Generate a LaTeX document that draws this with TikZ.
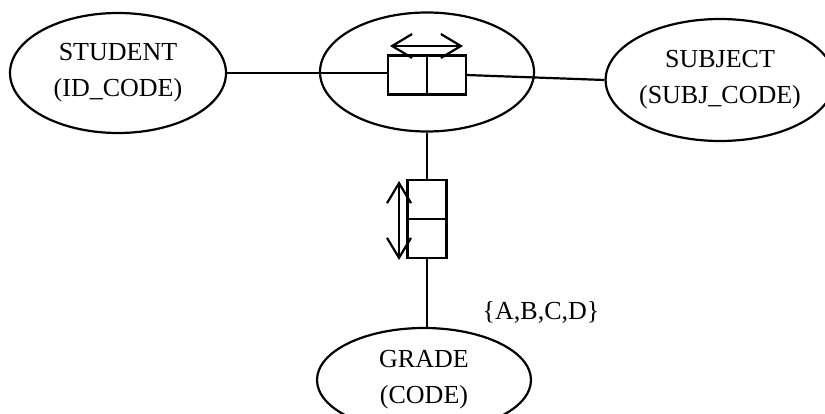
\documentclass[tikz,border=0pt]{standalone}
\usepackage{fontspec}
\setmainfont{Liberation Serif}
\usetikzlibrary{shapes.geometric,arrows.meta}
\begin{document}
\begin{tikzpicture}[x=1pt,y=-1pt,
  ent/.style={ellipse,draw,line width=2.2pt,inner sep=0pt,align=center,font=\fontsize{26}{36}\selectfont},
  sq/.style={draw,line width=2.2pt,outer sep=0pt,minimum width=39pt,minimum height=39pt,inner sep=0pt},
  conn/.style={line width=2.2pt},
  dbl/.style={line width=2.2pt,{Straight Barb[length=20pt,width=24pt]}-{Straight Barb[length=20pt,width=24pt]}}]
\useasboundingbox[fill=white] (0,0) rectangle (825,414);
\clip (0,0) rectangle (825,414);
\node[ent,minimum width=216pt,minimum height=120pt] (student) at (118,73) {STUDENT\\(ID\_CODE)};
\node[ent,minimum width=214pt,minimum height=119pt] (rel) at (427,72) {};
\node[ent,minimum width=208pt,minimum height=122pt] (subject) at (720,80) {SUBJECT\\(SUBJ\_CODE)};
\node[ent,minimum width=214pt,minimum height=104pt] (grade) at (424,380) {GRADE\\(CODE)};
\node[sq,anchor=east] (lbox) at (427,75) {};
\node[sq,anchor=west] (rbox) at (427,75) {};
\node[sq,anchor=south] (tbox) at (427,219) {};
\node[sq,anchor=north] (bbox) at (427,219) {};
\node[font=\fontsize{26}{36}\selectfont] (dom) at (541,312) {\{A,B,C,D\}};
\coordinate (h1) at (390,46);
\coordinate (h2) at (463,46);
\coordinate (v1) at (399,181);
\coordinate (v2) at (399,260);
\draw[conn] (student.east) -- (student.east -| lbox.west);
\draw[conn] (rbox.east) -- (subject.west);
\draw[conn] (rel.south) -- (tbox.north);
\draw[conn] (bbox.south) -- (bbox.south |- grade.north);
\draw[dbl] (h1) -- (h2);
\draw[dbl] (v1) -- (v2);
\end{tikzpicture}
\end{document}
